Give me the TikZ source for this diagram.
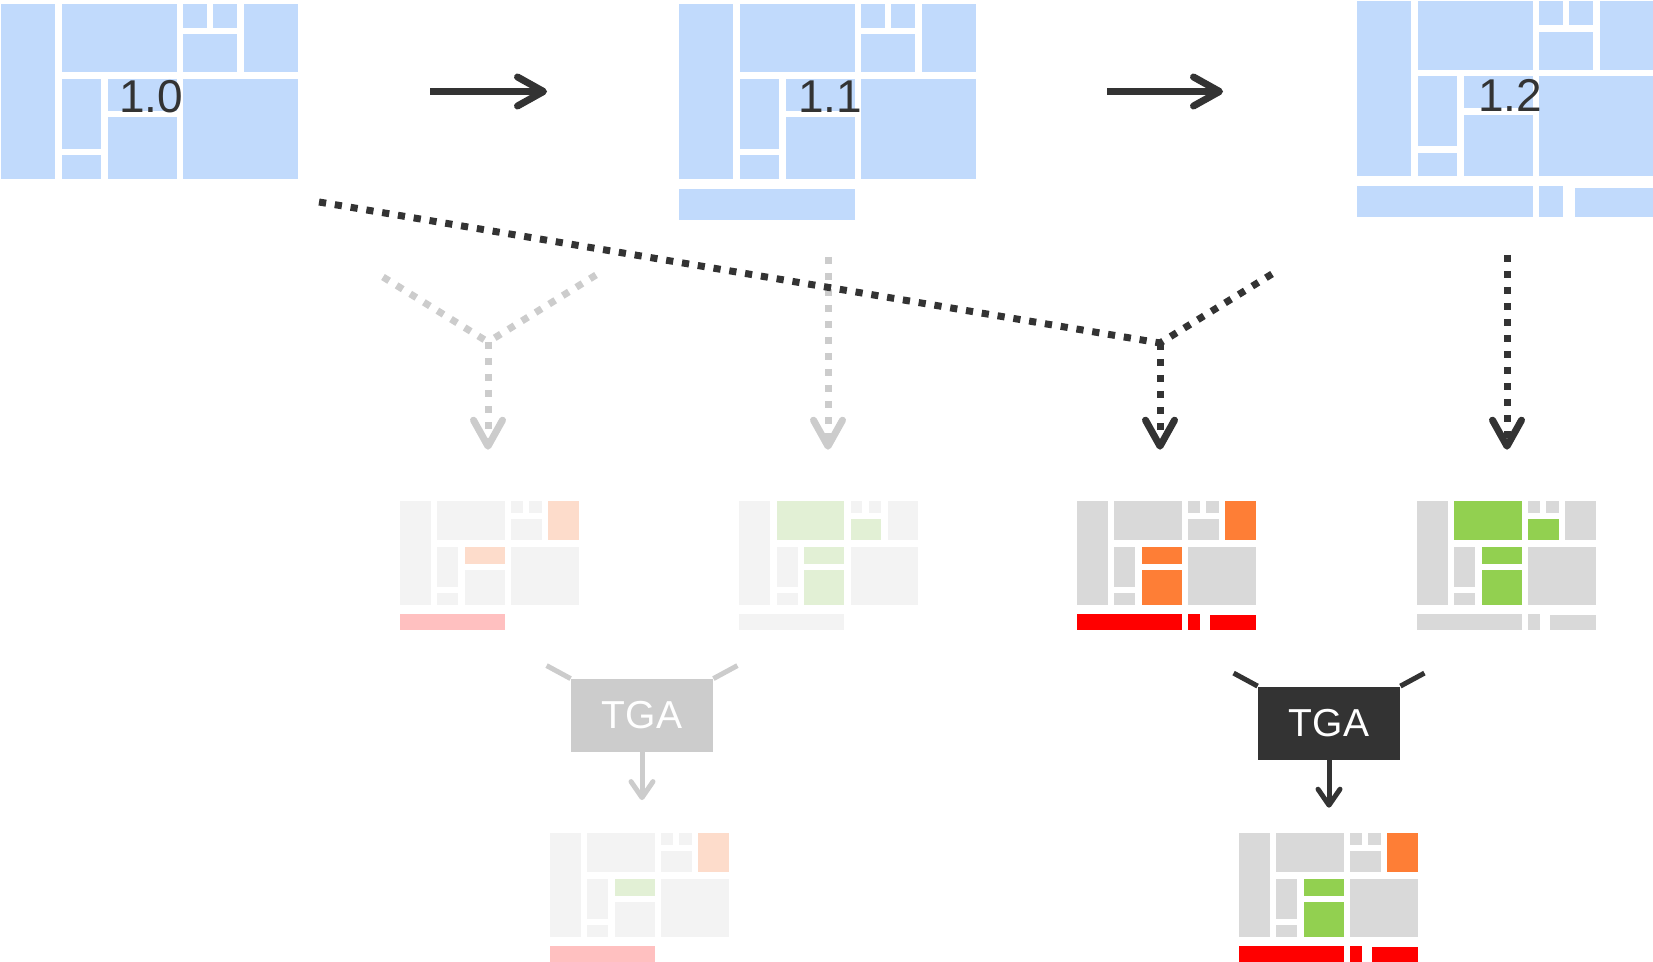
\documentclass[tikz,border=0pt]{standalone}
\usepackage{fontspec}
\setmainfont{Liberation Sans}
\usetikzlibrary{positioning,arrows.meta}

\definecolor{tileblue}{HTML}{C1DAFC}
\definecolor{tilegrey}{HTML}{D9D9D9}
\definecolor{tilefaint}{HTML}{F3F3F3}
\definecolor{tileorange}{HTML}{FE7E36}
\definecolor{faintorange}{HTML}{FDDCCB}
\definecolor{tilegreen}{HTML}{92D050}
\definecolor{faintgreen}{HTML}{E2F0D5}
\definecolor{tilered}{HTML}{FF0000}
\definecolor{faintred}{HTML}{FFC0C0}
\definecolor{inkdark}{HTML}{333333}
\definecolor{inkfaint}{HTML}{CCCCCC}

\tikzset{
  cellbox/.style={draw=white,line width=3.25pt},
  tilebase/.style={fill=tilegrey},
  barfill/.style={fill=tilegrey},
  bigblk/.style={minimum width=148.5pt,minimum height=87.5pt,inner sep=0pt,outer sep=0pt,anchor=north west},
  smallblk/.style={minimum width=89.5pt,minimum height=51.5pt,inner sep=0pt,outer sep=0pt,anchor=north west},
  small/.style={xscale=0.61,yscale=0.61},
  ver/.style={text=inkdark,font=\fontsize{23}{23}\selectfont,inner sep=0pt,anchor=west},
  tga/.style={minimum width=71pt,minimum height=36.5pt,inner sep=0pt,text=white,font=\fontsize{19.5}{19.5}\selectfont},
  flow/.style={line width=3.5pt,dash pattern=on 3.6pt off 4.4pt},
  bigtip/.style={-{Straight Barb[length=13pt,width=14.5pt,round]}},
  smalltip/.style={-{Straight Barb[length=8pt,width=11pt,round]}},
}

% one layout of the version; #1 = scope options, #2 = 0, 1 or 2 (no bar, one bar, three bars)
\newcommand\mosaic[2]{%
  \begin{scope}[#1]
    \path[cellbox,tilebase,cA/.try]  (-3.25,-3.25) rectangle (57.5,178.25);
    \path[cellbox,tilebase,cB/.try]  (57.5,-3.25) rectangle (179,71.5);
    \path[cellbox,tilebase,cC1/.try] (179,-3.25) rectangle (209,27);
    \path[cellbox,tilebase,cC2/.try] (209,-3.25) rectangle (239.5,27);
    \path[cellbox,tilebase,cC3/.try] (179,27) rectangle (239.5,71.5);
    \path[cellbox,tilebase,cD/.try]  (239.5,-3.25) rectangle (300.25,71.5);
    \path[cellbox,tilebase,cE/.try]  (57.5,71.5) rectangle (103.25,148);
    \path[cellbox,tilebase,cF/.try]  (57.5,148) rectangle (103.25,178.25);
    \path[cellbox,tilebase,cG/.try]  (103.25,71.5) rectangle (179,110);
    \path[cellbox,tilebase,cH/.try]  (103.25,110) rectangle (179,178.25);
    \path[cellbox,tilebase,cI/.try]  (179,71.5) rectangle (300.25,178.25);
    \ifnum#2>0 \path[cellbox,barfill] (-3.25,181.75) rectangle (179,219.25);\fi
    \ifnum#2>1
      \path[cellbox,barfill] (179,181.75) rectangle (209,219.25);
      \path[cellbox,barfill] (214.75,183.75) rectangle (300.25,219.25);
    \fi
  \end{scope}}

\begin{document}
\begin{tikzpicture}[x=0.5pt,y=-0.5pt]
  \useasboundingbox (0,0) rectangle (1653,962);

  % versions
  \begin{scope}[every node/.style={bigblk}]
    \node (v10) at (1,4) {};
    \node (v11) at (679,4) {};
    \node (v12) at (1357,1.5) {};
  \end{scope}
  % layouts
  \begin{scope}[every node/.style={smallblk}]
    \node (s1) at (398.7,499.7) {};
    \node (s2) at (738.2,499.7) {};
    \node (s3) at (1075.7,499.7) {};
    \node (s4) at (1415.7,499.7) {};
    \node (s5) at (548.7,831.7) {};
    \node (s6) at (1237.7,831.7) {};
  \end{scope}

  \mosaic{shift={(v10.north west)},tilebase/.style={fill=tileblue}}{0}
  \mosaic{shift={(v11.north west)},tilebase/.style={fill=tileblue},barfill/.style={fill=tileblue}}{1}
  \mosaic{shift={(v12.north west)},tilebase/.style={fill=tileblue},barfill/.style={fill=tileblue}}{2}

  \mosaic{shift={(s1.north west)},small,tilebase/.style={fill=tilefaint},
    cD/.style={fill=faintorange},cG/.style={fill=faintorange},barfill/.style={fill=faintred}}{1}
  \mosaic{shift={(s2.north west)},small,tilebase/.style={fill=tilefaint},
    cB/.style={fill=faintgreen},cC3/.style={fill=faintgreen},cG/.style={fill=faintgreen},
    cH/.style={fill=faintgreen},barfill/.style={fill=tilefaint}}{1}
  \mosaic{shift={(s3.north west)},small,
    cD/.style={fill=tileorange},cG/.style={fill=tileorange},cH/.style={fill=tileorange},
    barfill/.style={fill=tilered}}{2}
  \mosaic{shift={(s4.north west)},small,
    cB/.style={fill=tilegreen},cC3/.style={fill=tilegreen},cG/.style={fill=tilegreen},
    cH/.style={fill=tilegreen}}{2}
  \mosaic{shift={(s5.north west)},small,tilebase/.style={fill=tilefaint},
    cD/.style={fill=faintorange},cG/.style={fill=faintgreen},barfill/.style={fill=faintred}}{1}
  \mosaic{shift={(s6.north west)},small,
    cD/.style={fill=tileorange},cG/.style={fill=tilegreen},cH/.style={fill=tilegreen},
    barfill/.style={fill=tilered}}{2}

  \node[ver] (l10) at ([shift={(118,93)}]v10.north west) {1.0};
  \node[ver] (l11) at ([shift={(119,93)}]v11.north west) {1.1};
  \node[ver] (l12) at ([shift={(121,94)}]v12.north west) {1.2};

  \node[tga,fill=inkfaint] (t1) at (642,715.5) {TGA};
  \node[tga,fill=inkdark] (t2) at (1329,723) {TGA};

  \coordinate (g1a) at (383,277);
  \coordinate (g1b) at (596,275);
  \coordinate (j1) at (488,342);
  \coordinate (c11) at (828,257);
  \coordinate (c10) at (319,202);
  \coordinate (c12) at (1272,274);
  \coordinate (j3) at (1160,343);
  \coordinate (c12d) at (1507,255);

  % version steps
  \begin{scope}[every edge/.style={draw=inkdark,line width=3.5pt,bigtip}]
    \path (v10.east) edge[shorten <=66pt,shorten >=66pt] (v11.west);
    \path (v11.east) edge[shorten <=65.5pt,shorten >=67pt] (v11.east -| v12.west);
  \end{scope}

  \begin{scope}[every edge/.style={draw=inkfaint,flow}]
    \path (g1a) edge (j1);
    \path (g1b) edge (j1);
    \path (j1) edge[bigtip,shorten >=25pt] (j1 |- s1.north);
    \path (c11) edge[bigtip,shorten >=25pt] (c11 |- s2.north);
  \end{scope}

  \begin{scope}[every edge/.style={draw=inkdark,flow}]
    \path (c10) edge (j3);
    \path (c12) edge (j3);
    \path (j3) edge[bigtip,shorten >=25pt] (j3 |- s3.north);
    \path (c12d) edge[bigtip,shorten >=25pt] (c12d |- s4.north);
  \end{scope}

  % TGA
  \begin{scope}[every edge/.style={draw=inkfaint,line width=2.5pt}]
    \path (t1.north west) edge ++(-24,-13);
    \path (t1.north east) edge ++(24,-13);
    \path (t1.south) edge[smalltip,shorten >=15.8pt] (t1.south |- s5.north);
  \end{scope}
  \begin{scope}[every edge/.style={draw=inkdark,line width=2.5pt}]
    \path (t2.north west) edge ++(-24,-13);
    \path (t2.north east) edge ++(24,-13);
    \path (t2.south) edge[smalltip,shorten >=12pt] (t2.south |- s6.north);
  \end{scope}
\end{tikzpicture}
\end{document}
